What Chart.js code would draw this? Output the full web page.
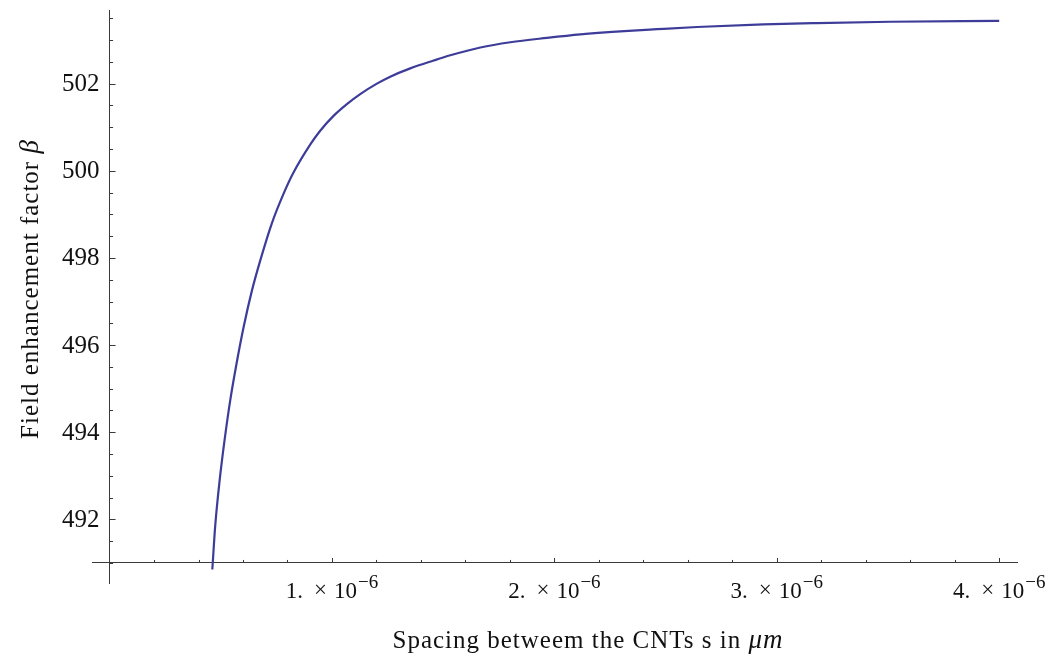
<!DOCTYPE html>
<html>
<head>
<meta charset="utf-8">
<script src="https://cdn.jsdelivr.net/npm/chart.js@4/dist/chart.umd.min.js"></script>
<style>
  html, body { margin: 0; padding: 0; background: #fff; }
  #wrap { width: 1054px; height: 657px; }
</style>
</head>
<body>
<div id="wrap"><canvas id="plot"></canvas></div>
<script>
// spacing s (x) and field enhancement factor beta (y)
const spacing = [0.462e-6, 0.475e-6, 0.495e-6, 0.516e-6, 0.543e-6, 0.570e-6, 0.603e-6, 0.640e-6,
  0.678e-6, 0.730e-6, 0.782e-6, 0.827e-6, 0.902e-6, 0.947e-6, 1.007e-6, 1.067e-6, 1.127e-6,
  1.202e-6, 1.262e-6, 1.352e-6, 1.457e-6, 1.532e-6, 1.667e-6, 1.802e-6, 1.967e-6, 2.117e-6,
  2.296e-6, 2.461e-6, 2.641e-6, 2.939e-6, 3.181e-6, 3.510e-6, 4.0e-6]
const beta = [490.85, 491.85, 492.90, 493.78, 494.75, 495.55, 496.42, 497.25,
  497.95, 498.80, 499.47, 499.96, 500.60, 500.92, 501.26, 501.53, 501.76,
  502.00, 502.16, 502.35, 502.53, 502.65, 502.83, 502.95, 503.05, 503.13,
  503.20, 503.25, 503.30, 503.36, 503.39, 503.42, 503.44]

const xTicks = [1e-6, 2e-6, 3e-6, 4e-6]
const xTickMant = ["1.", "2.", "3.", "4."]
const xMinor = [0.2e-6, 0.4e-6, 0.6e-6, 0.8e-6, 1.2e-6, 1.4e-6, 1.6e-6, 1.8e-6, 2.2e-6, 2.4e-6,
  2.6e-6, 2.8e-6, 3.2e-6, 3.4e-6, 3.6e-6, 3.8e-6]
const yTicks = [492, 494, 496, 498, 500, 502]
const yMinor = [491, 491.5, 492.5, 493, 493.5, 494.5, 495, 495.5, 496.5, 497, 497.5, 498.5, 499,
  499.5, 500.5, 501, 501.5, 502.5, 503, 503.5]

const xTitle = "Spacing betweem the CNTs s in "
const xTitleUnit = "\u03bcm"
const yTitle = "Field enhancement factor "
const yTitleSym = "\u03b2"

const axisColor = "#3a3a3a"
const serif = "'Liberation Serif', 'DejaVu Serif', serif"

// inward ticks, tick labels (1.×10^-6 style) and axis titles
const axisDecor = {
  id: 'axisDecor',
  afterDraw(chart) {
    const ctx = chart.ctx
    const xs = chart.scales.x, ys = chart.scales.y
    const x0 = xs.getPixelForValue(0)
    const y0 = ys.getPixelForValue(491)
    ctx.save()
    ctx.strokeStyle = axisColor
    ctx.lineWidth = 1
    ctx.beginPath()
    yTicks.forEach(v => { const p = Math.round(ys.getPixelForValue(v)) + 0.5; ctx.moveTo(x0, p); ctx.lineTo(x0 + 6, p) })
    yMinor.forEach(v => { const p = Math.round(ys.getPixelForValue(v)) + 0.5; ctx.moveTo(x0, p); ctx.lineTo(x0 + 3.5, p) })
    xTicks.forEach(v => { const p = Math.round(xs.getPixelForValue(v)) + 0.5; ctx.moveTo(p, y0); ctx.lineTo(p, y0 - 5) })
    xMinor.forEach(v => { const p = Math.round(xs.getPixelForValue(v)) + 0.5; ctx.moveTo(p, y0); ctx.lineTo(p, y0 - 3) })
    ctx.stroke()

    ctx.fillStyle = "#111"
    // y tick labels
    ctx.font = "25px " + serif
    ctx.textAlign = 'right'
    ctx.textBaseline = 'middle'
    yTicks.forEach(v => ctx.fillText(String(v), x0 - 10, ys.getPixelForValue(v) + 1))

    // x tick labels
    ctx.textAlign = 'left'
    ctx.textBaseline = 'alphabetic'
    xTicks.forEach((v, i) => {
      ctx.font = "23px " + serif
      const wA = ctx.measureText(xTickMant[i]).width
      const wX = ctx.measureText("\u00d7").width
      const wT = ctx.measureText("10").width
      ctx.font = "19px " + serif
      const wE = ctx.measureText("\u22126").width
      const gap1 = 11, gap2 = 7
      const total = wA + gap1 + wX + gap2 + wT + 1 + wE
      let left = xs.getPixelForValue(v) - total / 2
      ctx.font = "23px " + serif
      ctx.fillText(xTickMant[i], left, y0 + 35)
      left += wA + gap1
      ctx.fillText("\u00d7", left, y0 + 34)
      left += wX + gap2
      ctx.fillText("10", left, y0 + 35)
      left += wT + 1
      ctx.font = "19px " + serif
      ctx.fillText("\u22126", left, y0 + 25)
    })

    // axis titles
    ctx.letterSpacing = "1px"
    ctx.font = "25px " + serif
    const wa = ctx.measureText(xTitle).width
    ctx.font = "italic 27px " + serif
    const wb = ctx.measureText(xTitleUnit).width
    let sx = 588 - (wa + wb) / 2
    ctx.font = "25px " + serif
    ctx.fillText(xTitle, sx, 648)
    ctx.font = "italic 27px " + serif
    ctx.fillText(xTitleUnit, sx + wa, 648)

    ctx.translate(38, 289)
    ctx.rotate(-Math.PI / 2)
    ctx.font = "25px " + serif
    const wc = ctx.measureText(yTitle).width
    ctx.font = "italic 27px " + serif
    const wd = ctx.measureText(yTitleSym).width
    sx = -(wc + wd) / 2
    ctx.font = "25px " + serif
    ctx.fillText(yTitle, sx, 0)
    ctx.font = "italic 27px " + serif
    ctx.fillText(yTitleSym, sx + wc, 0)
    ctx.restore()
  }
}

new Chart(document.getElementById('plot'), {
  type: 'line',
  data: {
    datasets: [{
      data: spacing.map((s, i) => ({ x: s, y: beta[i] })),
      borderColor: "#3d3d99",
      borderWidth: 2.2,
      pointRadius: 0,
      cubicInterpolationMode: 'monotone',
      fill: false
    }]
  },
  options: {
    responsive: true,
    maintainAspectRatio: false,
    animation: false,
    layout: { padding: { left: 92, right: 37, top: 10, bottom: 74 } },
    plugins: { legend: { display: false }, tooltip: { enabled: false } },
    scales: {
      x: {
        type: 'linear',
        min: -0.079e-6,
        max: 4.08e-6,
        position: { y: 491 },
        grid: { display: false },
        border: { display: true, color: axisColor, width: 1 },
        ticks: { display: false }
      },
      y: {
        type: 'linear',
        min: 490.54,
        max: 503.69,
        position: { x: 0 },
        grid: { display: false },
        border: { display: true, color: axisColor, width: 1 },
        ticks: { display: false }
      }
    }
  },
  plugins: [axisDecor]
})
</script>
</body>
</html>
